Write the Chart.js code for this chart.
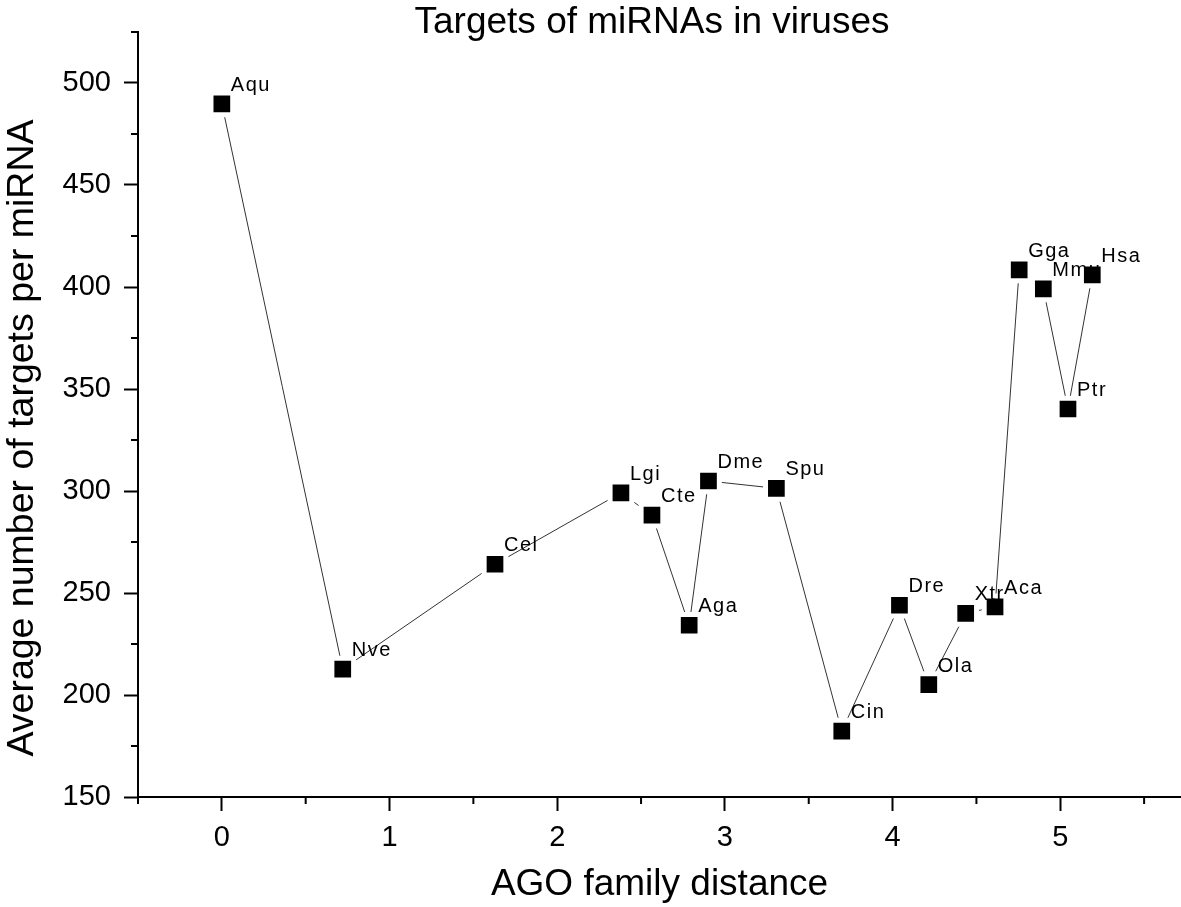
<!DOCTYPE html>
<html>
<head>
<meta charset="utf-8">
<script src="https://cdn.jsdelivr.net/npm/chart.js@4"></script>
<style>
  html, body { margin: 0; padding: 0; background: #fff; }
  #wrap { width: 1181px; height: 907px; }
</style>
</head>
<body>
<div id="wrap"><canvas id="c" width="1181" height="907"></canvas></div>
<script>
// ---- data ----
const species  = ['Aqu','Nve','Cel','Lgi','Cte','Aga','Dme','Spu','Cin','Dre','Ola','Xtr','Aca','Gga','Mmu','Ptr','Hsa'];
const distance = [0, 0.721, 1.629, 2.380, 2.565, 2.787, 2.902, 3.307, 3.697, 4.041, 4.216, 4.436, 4.611, 4.755, 4.899, 5.046, 5.191];
const targets  = [489.8, 212.7, 264.1, 299.1, 288.2, 234.2, 304.9, 301.3, 182.3, 244.0, 205.1, 240.0, 243.2, 408.4, 399.1, 340.2, 405.9];
const xMinorTicks = [-0.5, 0.5, 1.5, 2.5, 3.5, 4.5, 5.5];
const yMinorTicks = [175, 225, 275, 325, 375, 425, 475, 525];
const chartTitle = 'Targets of miRNAs in viruses';
const xTitle = 'AGO family distance';
const yTitle = 'Average number of targets per miRNA';

const FONT = "'Liberation Sans', Arial, Helvetica, sans-serif";

const points = distance.map((d, i) => ({ x: d, y: targets[i] }));

const labelPlugin = {
  id: 'pointLabels',
  afterDatasetsDraw(chart) {
    const ctx = chart.ctx;
    const meta = chart.getDatasetMeta(0);
    ctx.save();
    ctx.font = '20px ' + FONT;
    try { ctx.letterSpacing = '1.5px'; } catch (e) {}
    ctx.fillStyle = '#000';
    ctx.textAlign = 'left';
    ctx.textBaseline = 'alphabetic';
    meta.data.forEach((el, i) => {
      ctx.fillText(species[i], el.x + 9, el.y - 13);
    });
    ctx.restore();
  }
};

const decorPlugin = {
  id: 'decor',
  afterDraw(chart) {
    const ctx = chart.ctx;
    const xs = chart.scales.x, ys = chart.scales.y;
    const area = chart.chartArea;
    ctx.save();
    // minor ticks
    ctx.strokeStyle = '#000';
    ctx.lineWidth = 2;
    ctx.beginPath();
    yMinorTicks.forEach(v => {
      const y = ys.getPixelForValue(v);
      ctx.moveTo(area.left - 7, y);
      ctx.lineTo(area.left, y);
    });
    xMinorTicks.forEach(v => {
      const x = xs.getPixelForValue(v);
      ctx.moveTo(x, area.bottom);
      ctx.lineTo(x, area.bottom + 7);
    });
    ctx.stroke();
    // chart title
    ctx.fillStyle = '#000';
    ctx.font = '37px ' + FONT;
    ctx.textAlign = 'center';
    ctx.textBaseline = 'alphabetic';
    ctx.fillText(chartTitle, 652, 33);
    // y axis title
    ctx.save();
    ctx.translate(33, 438);
    ctx.rotate(-Math.PI / 2);
    ctx.font = '37.5px ' + FONT;
    ctx.fillText(yTitle, 0, 0);
    ctx.restore();
    ctx.restore();
  }
};

new Chart(document.getElementById('c'), {
  type: 'scatter',
  data: {
    datasets: [{
      data: points,
      showLine: true,
      borderColor: '#333',
      borderWidth: 1,
      pointStyle: 'rect',
      pointRadius: 15.35,
      pointHoverRadius: 15.35,
      pointBackgroundColor: '#000',
      pointBorderColor: '#fff',
      pointBorderWidth: 5,
      pointHoverBorderWidth: 5,
      tension: 0
    }]
  },
  options: {
    responsive: false,
    devicePixelRatio: 1,
    animation: false,
    layout: { padding: { top: 32, left: 0, right: 0, bottom: 0 }, autoPadding: false },
    plugins: {
      legend: { display: false },
      tooltip: { enabled: false },
      title: { display: false }
    },
    scales: {
      x: {
        type: 'linear',
        min: -0.5,
        max: 5.72,
        afterFit(scale) { scale.height = 110; },
        grid: { drawOnChartArea: false, tickLength: 14, tickWidth: 2, tickColor: '#000' },
        border: { display: true, color: '#000', width: 2 },
        ticks: {
          stepSize: 1,
          includeBounds: false,
          padding: 10,
          color: '#000',
          font: { family: FONT, size: 29, lineHeight: 1.2 },
          maxRotation: 0
        },
        title: {
          display: true,
          text: xTitle,
          color: '#000',
          font: { family: FONT, size: 37, lineHeight: 1.2 },
          padding: { top: 0, bottom: 0 }
        }
      },
      y: {
        type: 'linear',
        min: 150,
        max: 525,
        afterFit(scale) { scale.width = 138; },
        grid: { drawOnChartArea: false, tickLength: 14, tickWidth: 2, tickColor: '#000' },
        border: { display: true, color: '#000', width: 2 },
        ticks: {
          stepSize: 50,
          includeBounds: false,
          padding: 13,
          color: '#000',
          font: { family: FONT, size: 29, lineHeight: 1.2 }
        },
        title: { display: false }
      }
    }
  },
  plugins: [labelPlugin, decorPlugin]
});
</script>
</body>
</html>
